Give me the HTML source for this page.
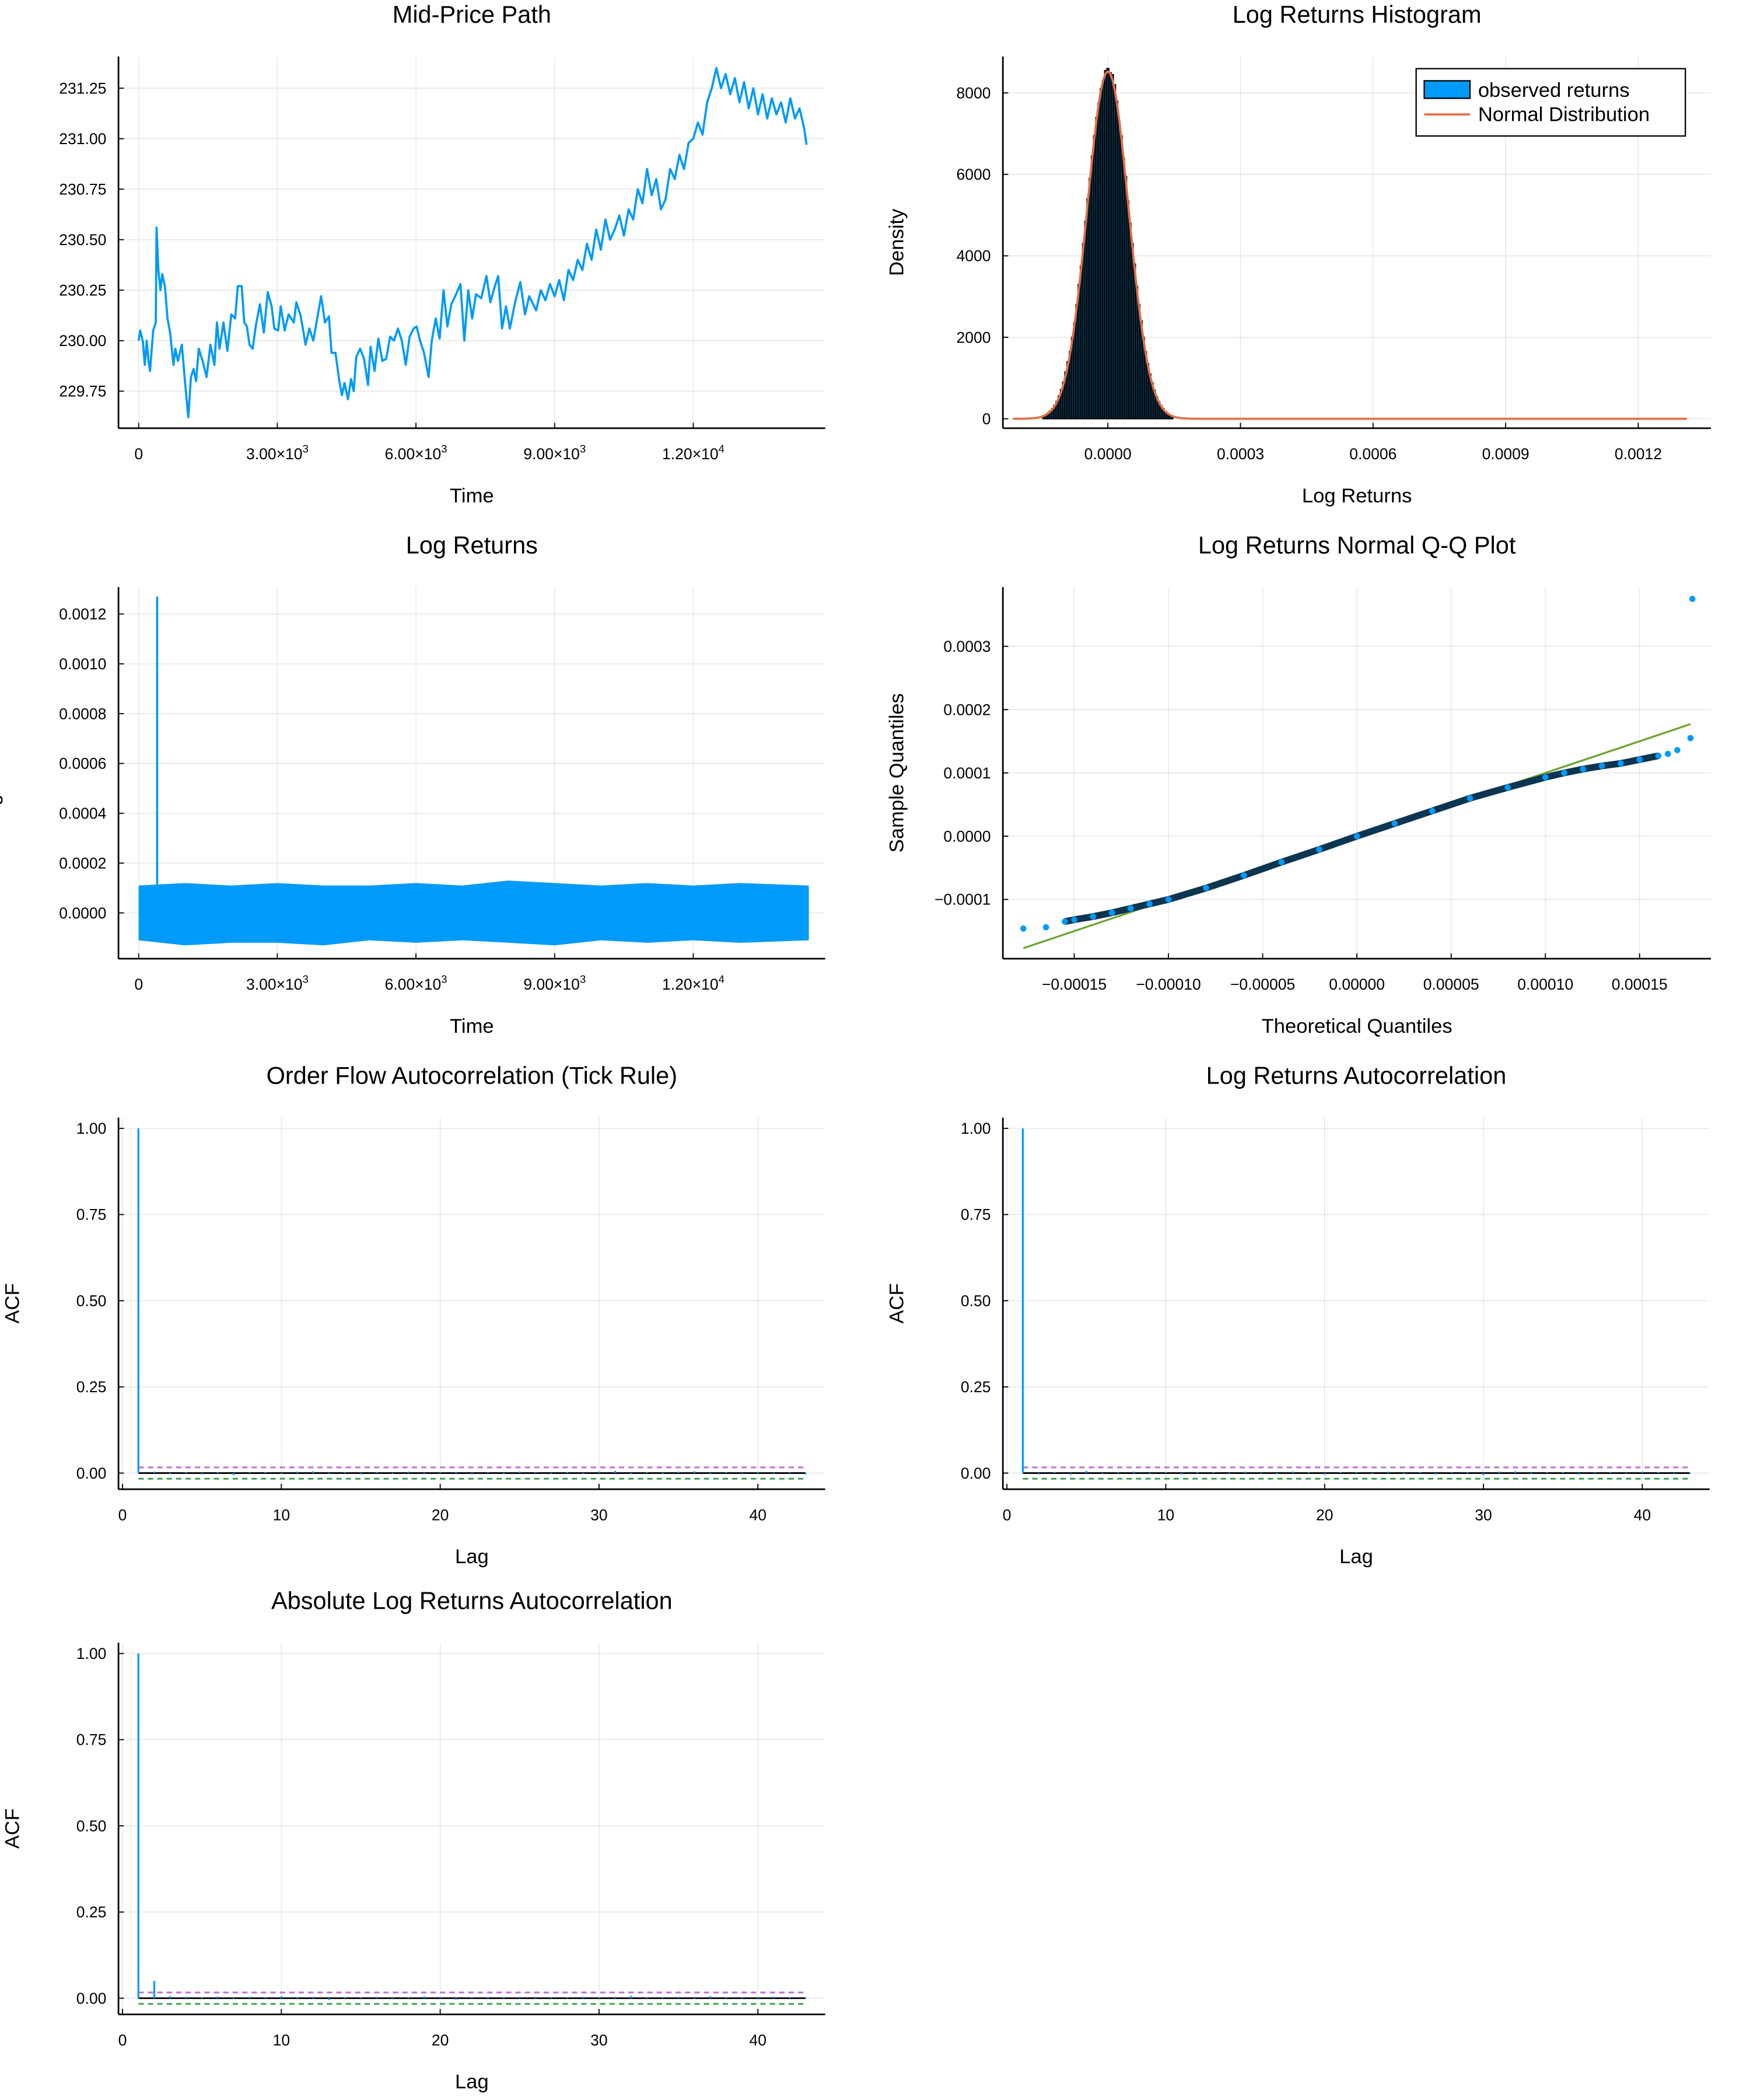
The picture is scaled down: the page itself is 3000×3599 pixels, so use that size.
<!DOCTYPE html>
<html><head><meta charset="utf-8"><style>
html,body{margin:0;padding:0;background:#fff}
svg{display:block;font-family:"Liberation Sans","DejaVu Sans",sans-serif}
</style></head><body>
<svg id="c" width="3000" height="3599" viewBox="0 0 1300 1559.6" xmlns="http://www.w3.org/2000/svg"></svg>
<script>
// ---- data ----
const priceTimes=[0,32,88,133,173,212,246,314,370,387,426,472,511,567,624,680,753,793,849,934,1001,1074,1131,1187,1243,1300,1384,1469,1553,1638,1694,1750,1835,1920,2004,2088,2145,2229,2286,2342,2398,2466,2539,2624,2708,2793,2877,2934,3018,3074,3159,3243,3356,3412,3497,3553,3610,3694,3779,3863,3948,4032,4117,4173,4258,4342,4398,4455,4528,4596,4652,4708,4793,4877,4962,5018,5103,5187,5272,5356,5441,5525,5610,5694,5779,5863,5948,6015,6088,6173,6274,6342,6427,6511,6596,6680,6765,6849,6962,7046,7131,7215,7300,7413,7525,7610,7694,7779,7863,7948,8032,8145,8258,8359,8450,8600,8700,8800,8900,9000,9100,9200,9300,9400,9500,9600,9700,9800,9900,10000,10100,10200,10300,10400,10500,10600,10700,10800,10900,11000,11100,11200,11300,11400,11500,11600,11700,11800,11900,12000,12100,12200,12300,12400,12500,12600,12700,12800,12900,13000,13100,13200,13300,13400,13500,13600,13700,13800,13900,14000,14100,14200,14300,14400,14450,14500];
const priceVals=[230.00,230.05,230.00,229.88,230.00,229.90,229.85,230.05,230.09,230.56,230.35,230.25,230.33,230.27,230.11,230.04,229.88,229.96,229.90,229.98,229.80,229.62,229.82,229.86,229.80,229.96,229.90,229.82,229.98,229.88,230.09,229.96,230.09,229.95,230.13,230.11,230.27,230.27,230.09,230.07,229.98,229.96,230.08,230.18,230.04,230.24,230.17,230.06,230.05,230.17,230.05,230.13,230.09,230.19,230.13,230.06,229.98,230.06,230.00,230.11,230.22,230.09,230.12,229.94,229.94,229.80,229.73,229.79,229.71,229.81,229.75,229.92,229.96,229.91,229.78,229.97,229.85,230.01,229.90,229.91,230.02,230.00,230.06,230.00,229.88,230.02,230.06,230.07,230.00,229.94,229.82,230.00,230.11,230.01,230.25,230.07,230.18,230.22,230.28,230.00,230.25,230.11,230.23,230.21,230.32,230.19,230.26,230.32,230.06,230.17,230.06,230.19,230.29,230.13,230.22,230.15,230.25,230.20,230.28,230.22,230.30,230.20,230.35,230.30,230.40,230.35,230.48,230.40,230.55,230.45,230.60,230.50,230.55,230.62,230.52,230.65,230.60,230.75,230.68,230.85,230.72,230.80,230.65,230.70,230.85,230.80,230.92,230.85,230.98,231.00,231.08,231.02,231.18,231.25,231.35,231.25,231.32,231.22,231.30,231.18,231.28,231.15,231.25,231.12,231.22,231.10,231.20,231.12,231.18,231.08,231.20,231.10,231.15,231.05,230.97];
const retTimes=[0,1000,2000,3000,4000,5000,6000,7000,8000,9000,10000,11000,12000,13000,14500];
const retUpper=[0.00011,0.00012,0.00011,0.00012,0.00011,0.00011,0.00012,0.00011,0.00013,0.00012,0.00011,0.00012,0.00011,0.00012,0.00011];
const retLower=[-0.00011,-0.00013,-0.00012,-0.00012,-0.00013,-0.00011,-0.00012,-0.00011,-0.00012,-0.00013,-0.00011,-0.00012,-0.00011,-0.00012,-0.00011];
const spikeTime=400, spikeVal=0.00127;
const histStart=-0.0001475, histBinWidth=0.000005;
const histVals=[70,100,140,190,250,330,430,560,720,900,1150,1400,1650,2000,2350,2800,3300,3750,4300,4850,5400,5900,6450,6950,7400,7750,8100,8300,8550,8600,8500,8450,8200,7800,7300,6950,6400,5950,5350,4800,4300,3800,3250,2800,2400,2000,1650,1350,1100,880,700,540,420,320,250,180,130,90,60];
const normMean=0, normSd=0.0000468, normXMin=-0.000215, normXMax=0.00131;
const qqTheo=[-0.000177,-0.000165,-0.000155,-0.00015,-0.00014,-0.00013,-0.00012,-0.00011,-0.0001,-0.00008,-0.00006,-0.00004,-0.00002,0,0.00002,0.00004,0.00006,0.00008,0.0001,0.00011,0.00012,0.00013,0.00014,0.00015,0.00016,0.000165,0.00017,0.000177];
const qqSamp=[-0.000146,-0.000144,-0.000135,-0.000132,-0.000127,-0.000121,-0.000114,-0.000107,-0.0001,-0.000082,-0.000062,-0.000041,-0.000021,0,0.00002,0.00004,0.00006,0.000077,0.000093,0.0001,0.000106,0.000111,0.000115,0.000121,0.000127,0.00013,0.000136,0.000155];
const qqOutlierT=0.000178, qqOutlierS=0.000375;
const lags=[1,2,3,4,5,6,7,8,9,10,11,12,13,14,15,16,17,18,19,20,21,22,23,24,25,26,27,28,29,30,31,32,33,34,35,36,37,38,39,40,41,42,43];
const acfFlow=[1,0.004,-0.003,0.002,-0.004,0.003,-0.006,0.002,0.003,-0.002,0.004,0.005,-0.003,0.002,-0.004,0.003,-0.002,0.004,-0.003,0.002,0.003,-0.004,0.002,-0.003,0.004,0.002,-0.003,0.003,-0.002,0.004,0.006,-0.003,0.002,-0.003,0.004,0.005,-0.003,0.002,-0.004,0.003,-0.003,0.002,-0.004];
const acfRet=[1,-0.004,0.003,-0.005,0.006,-0.002,0.003,0.004,-0.003,0.002,-0.004,0.003,0.002,-0.003,0.004,-0.002,-0.003,0.004,0.002,-0.005,0.003,0.002,-0.003,0.004,-0.002,0.003,-0.004,0.002,0.003,-0.006,0.004,0.005,-0.003,0.002,0.003,-0.004,0.002,0.003,-0.002,0.004,0.003,-0.003,0.002];
const acfAbs=[1,0.05,0.006,0.004,0.003,0.005,-0.003,0.004,0.002,0.006,0.003,0.004,-0.005,0.003,0.002,0.004,-0.003,0.002,0.005,0.004,-0.004,0.003,0.002,0.003,0.004,-0.002,0.003,0.002,0.004,0.003,-0.003,0.007,0.002,0.003,0.004,-0.002,0.006,0.003,0.002,-0.003,0.004,0.002,0.003];
const confBand=0.0165;

// ---- helpers ----
const svg=document.getElementById('c');const NS='http://www.w3.org/2000/svg';
function el(tag,attrs,parent,text){const e=document.createElementNS(NS,tag);for(const k in attrs)e.setAttribute(k,attrs[k]);if(text!==undefined)e.textContent=text;(parent||svg).appendChild(e);return e;}
function lin(d0,d1,r0,r1){return v=>r0+(v-d0)*(r1-r0)/(d1-d0);}
function panel(name,x0,y0,x1,y1,title,xlabel,ylabel,xticks,yticks,sx,sy,xfmt,yfmt,ylx){
  const g=el('g',{});
  
  
  xticks.forEach(t=>{const x=sx(t);el('line',{x1:x,x2:x,y1:y0,y2:y1,stroke:'#000','stroke-opacity':0.1,'stroke-width':0.6},g);});
  yticks.forEach(t=>{const y=sy(t);el('line',{x1:x0,x2:x1,y1:y,y2:y,stroke:'#000','stroke-opacity':0.1,'stroke-width':0.6},g);});
  el('line',{x1:x0,x2:x0,y1:y0,y2:y1,stroke:'#000','stroke-width':1.2},g);
  el('line',{x1:x0,x2:x1,y1:y1,y2:y1,stroke:'#000','stroke-width':1.2},g);
  xticks.forEach(t=>{const x=sx(t);el('line',{x1:x,x2:x,y1:y1,y2:y1-4,stroke:'#000','stroke-width':0.8},g);
    const tx=el('text',{x:x,y:y1+23,'font-size':11.5,'text-anchor':'middle'},g);tx.innerHTML=xfmt(t);
    
    });
  yticks.forEach(t=>{const y=sy(t);el('line',{x1:x0,x2:x0+4,y1:y,y2:y,stroke:'#000','stroke-width':0.8},g);
    const ty=el('text',{x:x0-9,y:y+4,'font-size':11.5,'text-anchor':'end'},g,yfmt(t));
    
    });
  const tt=el('text',{x:(x0+x1)/2,y:y0-25,'font-size':18,'text-anchor':'middle'},g,title);
  
  
  const xl=el('text',{x:(x0+x1)/2,y:y1+55,'font-size':15,'text-anchor':'middle'},g,xlabel);
  
  
  if(ylabel){const yx=ylx!==undefined?ylx:x0-74;const yl=el('text',{x:yx,y:(y0+y1)/2,'font-size':15,'text-anchor':'middle',transform:`rotate(-90 ${yx} ${(y0+y1)/2})`},g,ylabel);
    
    }
  return g;
}
const sci=t=>t===0?'0':(t>=10000?`1.20×10<tspan dy="-5" font-size="8">4</tspan>`:`${(t/1000).toFixed(2)}×10<tspan dy="-5" font-size="8">3</tspan>`);
const BLUE='#009af9';

// ---- panel 1: mid price ----
{const sx=lin(0,12000,103,515),sy=lin(230,231,253,103);
 const g=panel('mid-price-panel',88,42,613,318,'Mid-Price Path','Time','',[0,3000,6000,9000,12000],[229.75,230,230.25,230.5,230.75,231,231.25],sx,sy,sci,t=>t.toFixed(2));
 const p=el('polyline',{points:priceTimes.map((t,i)=>sx(t)+','+sy(priceVals[i])).join(' '),fill:'none',stroke:BLUE,'stroke-width':1.6,'stroke-linejoin':'round'},g);
 
 }

// ---- panel 2: histogram ----
{const sx=lin(0,0.0012,823,1217),sy=lin(0,8000,311,69);
 const g=panel('histogram-panel',745,42,1271,318,'Log Returns Histogram','Log Returns','Density',[0,0.0003,0.0006,0.0009,0.0012],[0,2000,4000,6000,8000],sx,sy,t=>t.toFixed(4),t=>String(t));
 histVals.forEach((v,i)=>{const a=histStart+i*histBinWidth;const x=sx(a),w=sx(a+histBinWidth)-x;const r=el('rect',{x:x,y:sy(v),width:w,height:sy(0)-sy(v),fill:'#0b3550',stroke:'#000','stroke-width':0.8},g);
   
   });
 const pts=[];for(let k=0;k<=500;k++){const v=normXMin+(normXMax-normXMin)*k/500;const d=Math.exp(-0.5*((v-normMean)/normSd)**2)/(normSd*Math.sqrt(2*Math.PI));pts.push(sx(v)+','+sy(d));}
 const nl=el('polyline',{points:pts.join(' '),fill:'none',stroke:'#e26f46','stroke-width':1.6},g);
 
 
 const lg=el('g',{},g);
 
 
 el('rect',{x:1052,y:51,width:200,height:50,fill:'#fff',stroke:'#000','stroke-width':1},lg);
 el('rect',{x:1058,y:60,width:34,height:13,fill:BLUE,stroke:'#000','stroke-width':1},lg);
 el('text',{x:1098,y:72,'font-size':15},lg,'observed returns');
 el('line',{x1:1058,x2:1092,y1:85,y2:85,stroke:'#e26f46','stroke-width':1.6},lg);
 el('text',{x:1098,y:90,'font-size':15},lg,'Normal Distribution');}

// ---- panel 3: log returns ----
{const sx=lin(0,12000,103,515),sy=lin(0,0.0012,678,456);
 const g=panel('log-returns-panel',88,436,613,712,'Log Returns','Time','Log Returns',[0,3000,6000,9000,12000],[0,0.0002,0.0004,0.0006,0.0008,0.001,0.0012],sx,sy,sci,t=>t.toFixed(4),-1);
 const up=retTimes.map((t,i)=>sx(t)+','+sy(retUpper[i])),lo=retTimes.map((t,i)=>sx(t)+','+sy(retLower[i])).reverse();
 const b=el('polygon',{points:up.concat(lo).join(' '),fill:BLUE},g);
 
 
 const s=el('line',{x1:sx(spikeTime),x2:sx(spikeTime),y1:sy(0),y2:sy(spikeVal),stroke:BLUE,'stroke-width':1.6},g);
 
 }

// ---- panel 4: QQ ----
{const sx=lin(0,0.0001,1008,1148),sy=lin(0,0.0001,621,574);
 const g=panel('qq-panel',745,436,1271,712,'Log Returns Normal Q-Q Plot','Theoretical Quantiles','Sample Quantiles',[-0.00015,-0.0001,-0.00005,0,0.00005,0.0001,0.00015],[-0.0001,0,0.0001,0.0002,0.0003],sx,sy,t=>(t<0?'\u2212':'')+Math.abs(t).toFixed(5),t=>(t<0?'\u2212':'')+Math.abs(t).toFixed(4));
 const rl=el('line',{x1:sx(-0.000177),y1:sy(-0.000177),x2:sx(0.000177),y2:sy(0.000177),stroke:'#6aa32e','stroke-width':1.4},g);
 
 
 const ln=el('polyline',{points:qqTheo.slice(2,-3).map((t,i)=>sx(t)+','+sy(qqSamp[i+2])).join(' '),fill:'none',stroke:'#0b3550','stroke-width':5},g);
 
 
 qqTheo.forEach((t,i)=>{const c=el('circle',{cx:sx(t),cy:sy(qqSamp[i]),r:2.3,fill:BLUE},g);
   
   });
 const o=el('circle',{cx:sx(qqOutlierT),cy:sy(qqOutlierS),r:2.3,fill:BLUE},g);
 
 }

// ---- ACF panels ----
function acfPanel(name,x0,y0,title,vals){
 const x1=x0+525,y1=y0+276;
 const sx=lin(0,10,x0+3,x0+121),sy=lin(0,1,y0+264,y0+8);
 const g=panel(name,x0,y0,x1,y1,title,'Lag','ACF',[0,10,20,30,40],[0,0.25,0.5,0.75,1],sx,sy,t=>String(t),t=>t.toFixed(2));
 el('line',{x1:sx(1),x2:sx(43),y1:sy(0),y2:sy(0),stroke:'#000','stroke-width':1.2},g);
 el('line',{x1:sx(1),x2:sx(43),y1:sy(confBand),y2:sy(confBand),stroke:'#c271d2','stroke-width':1.3,'stroke-dasharray':'4,3'},g);
 el('line',{x1:sx(1),x2:sx(43),y1:sy(-confBand),y2:sy(-confBand),stroke:'#3ea44e','stroke-width':1.3,'stroke-dasharray':'4,3'},g);
 lags.forEach((l,i)=>{const s=el('line',{x1:sx(l),x2:sx(l),y1:sy(0),y2:sy(vals[i]),stroke:BLUE,'stroke-width':1.4},g);
   
   });
}
acfPanel('order-flow-acf-panel',88,830,'Order Flow Autocorrelation (Tick Rule)',acfFlow);
acfPanel('log-returns-acf-panel',745,830,'Log Returns Autocorrelation',acfRet);
acfPanel('abs-returns-acf-panel',88,1220,'Absolute Log Returns Autocorrelation',acfAbs);
</script>
</body></html>
